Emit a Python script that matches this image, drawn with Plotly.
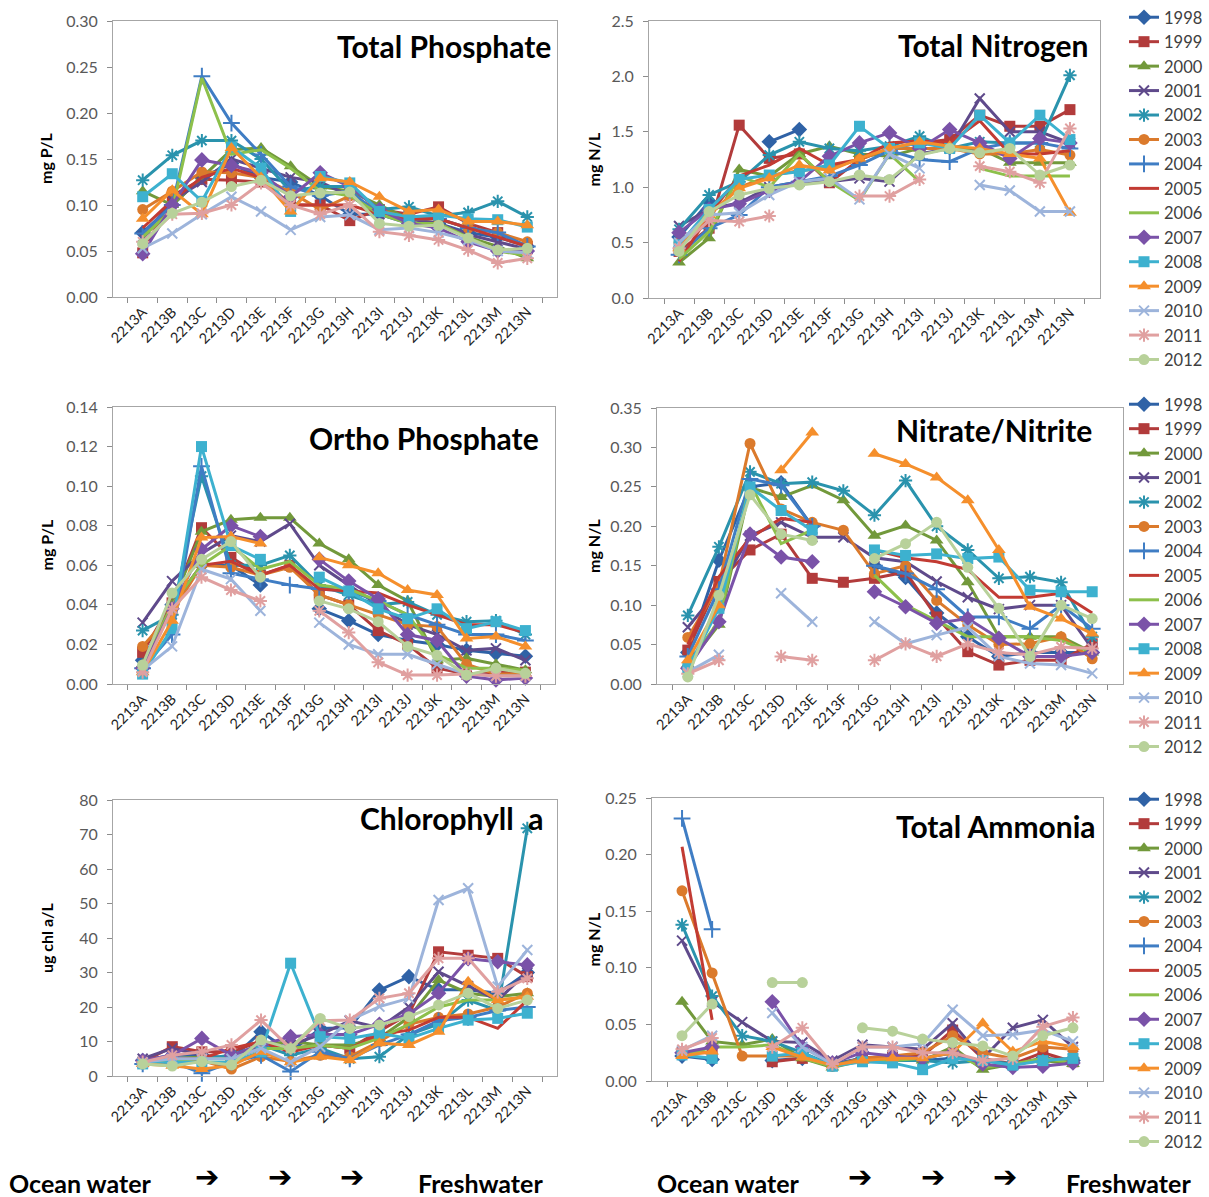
import plotly.graph_objects as go

W, H = 1209, 1197
N = None

stations = ['2213A', '2213B', '2213C', '2213D', '2213E', '2213F', '2213G',
            '2213H', '2213I', '2213J', '2213K', '2213L', '2213M', '2213N']
years = ['1998', '1999', '2000', '2001', '2002', '2003', '2004', '2005',
         '2006', '2007', '2008', '2009', '2010', '2011', '2012']

# Total Phosphate (mg P/L), one row per year
total_phosphate = [
    [0.070, 0.100, 0.130, 0.145, 0.130, 0.125, 0.110, 0.090, 0.090, 0.080, 0.080, 0.070, 0.065, 0.055],
    [0.048, 0.110, 0.128, 0.127, 0.125, 0.100, 0.100, 0.083, 0.095, 0.090, 0.098, 0.080, 0.070, 0.055],
    [0.115, 0.100, 0.130, 0.160, 0.162, 0.142, 0.120, 0.115, 0.100, 0.085, 0.080, 0.065, 0.055, 0.042],
    [0.065, 0.105, 0.125, 0.150, 0.140, 0.130, 0.125, 0.110, 0.090, 0.085, 0.080, 0.068, 0.060, 0.052],
    [0.127, 0.154, 0.170, 0.170, 0.150, 0.115, 0.120, 0.120, 0.095, 0.098, 0.088, 0.092, 0.104, 0.087],
    [0.095, 0.115, 0.136, 0.135, 0.130, 0.114, 0.095, 0.110, 0.095, 0.085, 0.085, 0.075, 0.070, 0.060],
    [0.069, 0.100, 0.240, 0.189, 0.155, 0.120, 0.110, 0.115, 0.090, 0.085, 0.085, 0.075, 0.070, 0.055],
    [0.075, 0.105, 0.130, 0.140, 0.130, 0.100, 0.100, 0.100, 0.090, 0.085, 0.085, 0.075, 0.065, 0.055],
    [0.065, 0.095, 0.238, 0.155, 0.160, 0.140, 0.115, 0.110, 0.090, 0.080, 0.080, 0.065, 0.050, 0.045],
    [0.047, 0.100, 0.149, 0.143, 0.135, 0.109, 0.135, 0.120, 0.095, 0.080, 0.075, 0.060, 0.050, 0.050],
    [0.109, 0.134, 0.104, 0.163, 0.140, 0.093, 0.131, 0.124, 0.093, 0.087, 0.089, 0.085, 0.084, 0.076],
    [0.085, 0.116, 0.090, 0.162, 0.130, 0.093, 0.129, 0.125, 0.109, 0.093, 0.095, 0.082, 0.082, 0.078],
    [0.053, 0.069, 0.090, 0.109, 0.093, 0.073, 0.087, 0.089, 0.073, 0.075, 0.070, 0.062, 0.050, 0.048],
    [0.060, 0.090, 0.091, 0.100, 0.124, 0.100, 0.090, 0.100, 0.071, 0.067, 0.062, 0.051, 0.037, 0.042],
    [0.058, 0.091, 0.103, 0.120, 0.127, 0.110, 0.113, 0.114, 0.080, 0.077, 0.078, 0.064, 0.051, 0.053],
]

# Total Nitrogen (mg N/L)
total_nitrogen = [
    [0.55, 0.87, N, 1.41, 1.52, N, N, N, N, N, N, N, N, N],
    [0.42, 0.63, 1.56, 1.26, 1.30, 1.04, 1.25, 1.35, 1.40, 1.43, 1.65, 1.55, 1.55, 1.70],
    [0.32, 0.54, 1.16, 1.10, 1.30, 1.37, 1.30, 1.28, 1.35, 1.35, 1.35, 1.22, 1.22, 1.22],
    [0.65, 0.80, 0.86, 1.00, 1.05, 1.05, 1.08, 1.05, 1.30, 1.35, 1.80, 1.50, 1.50, 1.40],
    [0.62, 0.93, 1.05, 1.29, 1.41, 1.35, 1.33, 1.37, 1.46, 1.35, 1.41, 1.40, 1.40, 2.01],
    [0.50, 0.75, 1.00, 1.10, 1.15, 1.17, 1.25, 1.35, 1.35, 1.35, 1.30, 1.30, 1.34, 1.29],
    [0.39, 0.63, 0.75, 1.00, 1.05, 1.10, 1.20, 1.33, 1.25, 1.23, 1.35, 1.40, 1.40, 1.35],
    [0.33, 0.75, 1.10, 1.20, 1.35, 1.20, 1.25, 1.40, 1.42, 1.40, 1.60, 1.30, 1.30, 1.33],
    [0.35, 0.60, 1.10, 1.00, 1.30, 1.05, 0.88, 1.30, 1.05, N, 1.17, 1.10, 1.10, 1.10],
    [0.59, 0.80, 0.85, 0.97, 1.05, 1.28, 1.40, 1.49, 1.35, 1.52, 1.40, 1.26, 1.44, 1.40],
    [0.48, 0.80, 1.07, 1.11, 1.14, 1.20, 1.55, 1.35, 1.40, 1.35, 1.65, 1.40, 1.65, 1.43],
    [0.45, 0.75, 0.99, 1.08, 1.20, 1.15, 1.26, 1.35, 1.41, 1.37, 1.35, 1.30, 1.26, 0.77],
    [0.50, 0.75, 0.77, 0.93, 1.05, 1.08, 0.89, 1.30, 1.17, N, 1.02, 0.97, 0.78, 0.78],
    [0.45, 0.70, 0.69, 0.74, N, N, 0.92, 0.92, 1.07, N, 1.19, 1.14, 1.04, 1.53],
    [0.42, 0.78, 0.93, 0.99, 1.02, 1.05, 1.11, 1.07, 1.29, 1.35, 1.31, 1.35, 1.11, 1.20],
]

# Ortho Phosphate (mg P/L)
ortho_phosphate = [
    [0.012, 0.040, 0.060, 0.060, 0.050, N, 0.038, 0.032, 0.025, 0.022, 0.020, 0.017, 0.0155, 0.014],
    [0.016, 0.041, 0.079, 0.064, 0.055, 0.060, 0.045, 0.040, 0.027, 0.020, 0.008, 0.005, 0.006, 0.006],
    [0.010, 0.040, 0.077, 0.083, 0.084, 0.084, 0.071, 0.063, 0.050, 0.042, 0.012, 0.013, 0.010, 0.007],
    [0.031, 0.052, 0.066, 0.075, 0.072, 0.081, 0.060, 0.050, 0.040, 0.030, 0.025, 0.017, 0.018, 0.012],
    [0.027, 0.035, 0.105, 0.060, 0.060, 0.065, 0.050, 0.045, 0.040, 0.0415, 0.035, 0.0315, 0.032, 0.025],
    [0.019, 0.036, 0.060, 0.059, 0.055, 0.059, 0.045, 0.040, 0.035, 0.030, 0.029, 0.010, 0.005, 0.005],
    [0.008, 0.025, 0.110, 0.056, 0.053, 0.050, 0.048, 0.047, 0.042, 0.035, 0.030, 0.025, 0.025, 0.022],
    [0.010, 0.040, 0.060, 0.062, 0.055, 0.060, 0.048, 0.047, 0.046, 0.040, 0.035, 0.030, 0.030, 0.026],
    [0.009, 0.040, 0.060, 0.070, 0.058, 0.062, 0.050, 0.048, 0.042, 0.035, 0.015, 0.008, 0.008, 0.007],
    [0.008, 0.038, 0.068, 0.080, 0.0745, N, 0.063, 0.052, 0.043, 0.025, 0.022, 0.004, 0.002, 0.003],
    [0.005, 0.028, 0.120, 0.070, 0.063, N, 0.054, 0.047, 0.038, 0.033, 0.038, 0.028, 0.0315, 0.027],
    [0.006, 0.032, 0.074, 0.0745, 0.071, N, 0.064, 0.060, 0.056, 0.0475, 0.045, 0.023, 0.024, 0.019],
    [0.007, 0.019, 0.058, 0.053, 0.037, N, 0.031, 0.020, 0.015, 0.015, 0.010, 0.005, 0.004, 0.004],
    [0.006, 0.038, 0.054, 0.0475, 0.042, N, 0.037, 0.026, 0.011, 0.0045, 0.0045, 0.005, 0.004, 0.004],
    [0.0096, 0.046, 0.063, 0.072, 0.054, N, 0.042, 0.038, 0.0315, 0.019, 0.0145, 0.0045, 0.008, 0.0054],
]

# Nitrate/Nitrite (mg N/L)
nitrate_nitrite = [
    [0.040, 0.157, 0.250, 0.255, 0.200, N, 0.150, 0.135, 0.090, 0.060, 0.035, 0.040, 0.040, 0.040],
    [0.043, 0.130, 0.170, 0.190, 0.134, 0.129, 0.134, 0.142, 0.085, 0.041, 0.024, 0.030, 0.030, 0.051],
    [0.025, 0.075, 0.249, 0.237, 0.252, 0.233, 0.188, 0.201, 0.182, 0.129, 0.060, 0.060, 0.060, 0.040],
    [0.072, 0.120, 0.188, 0.205, 0.186, 0.186, 0.160, 0.155, 0.130, 0.110, 0.095, 0.100, 0.100, 0.045],
    [0.087, 0.174, 0.269, 0.254, 0.256, 0.245, 0.214, 0.258, 0.200, 0.170, 0.134, 0.136, 0.129, 0.060],
    [0.059, 0.125, 0.305, 0.222, 0.205, 0.195, 0.140, 0.150, 0.106, 0.075, 0.050, 0.051, 0.060, 0.032],
    [0.035, 0.120, 0.260, 0.252, 0.200, N, 0.150, 0.140, 0.120, 0.085, 0.085, 0.070, 0.100, 0.070],
    [0.050, 0.136, 0.185, 0.210, 0.205, N, 0.170, 0.160, 0.155, 0.145, 0.110, 0.110, 0.115, 0.090],
    [0.025, 0.080, 0.255, 0.178, 0.195, N, 0.138, 0.100, 0.080, 0.060, 0.060, 0.060, 0.055, 0.040],
    [0.020, 0.079, 0.190, 0.161, 0.155, N, 0.117, 0.098, 0.077, 0.083, 0.058, 0.035, 0.035, 0.040],
    [0.020, 0.096, 0.250, 0.220, 0.195, N, 0.170, 0.163, 0.165, 0.159, 0.161, 0.119, 0.117, 0.117],
    [0.030, 0.100, N, 0.271, 0.319, N, 0.292, 0.279, 0.262, 0.233, 0.170, 0.098, 0.083, 0.064],
    [0.015, 0.037, N, 0.115, 0.079, N, 0.079, 0.051, 0.062, 0.072, 0.035, 0.026, 0.024, 0.0135],
    [0.013, 0.030, N, 0.035, 0.030, N, 0.030, 0.051, 0.035, 0.051, 0.040, 0.037, 0.047, 0.045],
    [0.009, 0.1125, 0.240, 0.190, 0.182, N, 0.159, 0.178, 0.205, 0.148, 0.096, 0.035, 0.100, 0.083],
]

# Chlorophyll a (ug chl a/L)
chlorophyll_a = [
    [4.5, 6.0, 6.0, 5.0, 12.8, 7.0, 13.8, 14.0, 24.9, 28.8, 25.0, 25.0, 24.0, 30.0],
    [4.0, 8.5, 7.0, 7.0, 10.0, 8.0, 9.0, 8.0, 13.0, 18.0, 36.0, 35.0, 34.1, 28.8],
    [4.0, 5.0, 5.5, 5.0, 9.0, 10.0, 9.0, 9.0, 11.0, 17.0, 27.8, 24.0, 23.0, 24.0],
    [5.0, 8.0, 6.0, 5.0, 8.0, 9.0, 12.0, 16.0, 14.0, 20.0, 30.2, 26.0, 22.0, 30.0],
    [4.0, 4.5, 5.0, 6.0, 9.0, 6.0, 8.0, 5.0, 5.6, 12.0, 15.0, 22.0, 19.0, 71.8],
    [3.5, 4.0, 4.5, 2.0, 5.6, 4.2, 6.0, 5.6, 10.0, 15.0, 17.0, 18.0, 20.0, 24.0],
    [3.5, 4.0, 0.8, 4.0, 6.0, 1.3, 7.0, 5.0, 9.0, 12.0, 16.0, 17.0, 19.0, 20.0],
    [4.0, 5.0, 5.0, 8.0, 10.0, 7.0, 9.0, 8.0, 12.0, 13.3, 17.0, 17.0, 13.8, 22.0],
    [4.0, 4.5, 5.0, 5.0, 8.0, 8.0, 9.0, 8.0, 11.0, 15.0, 20.0, 22.0, 22.0, 23.0],
    [4.5, 6.0, 10.9, 6.0, 9.0, 11.4, 12.0, 12.0, 15.0, 18.0, 24.0, 34.0, 33.1, 32.2],
    [3.5, 4.0, 4.0, 4.0, 7.0, 32.7, 11.4, 10.9, 12.4, 10.9, 13.8, 16.2, 16.7, 18.2],
    [3.5, 3.0, 2.0, 3.0, 7.0, 4.0, 5.6, 4.6, 9.5, 9.0, 12.8, 27.3, 22.0, 23.0],
    [4.0, 5.0, 5.0, 5.0, 8.0, 4.0, 8.5, 16.2, 20.1, 22.5, 51.0, 54.4, 25.9, 36.5],
    [4.0, 6.0, 7.0, 9.0, 16.2, 8.0, 16.0, 16.2, 22.5, 24.0, 34.1, 34.1, 24.4, 28.3],
    [3.5, 2.9, 4.2, 3.2, 10.4, 8.0, 16.7, 13.8, 14.8, 17.2, 20.6, 24.0, 19.6, 22.0],
]

# Total Ammonia (mg N/L)
total_ammonia = [
    [0.022, 0.019, N, 0.018, 0.020, 0.015, 0.020, 0.020, 0.018, 0.020, 0.018, 0.015, 0.020, 0.018],
    [0.025, 0.025, N, 0.017, 0.020, 0.014, 0.020, 0.022, 0.022, 0.045, 0.020, 0.015, 0.025, 0.017],
    [0.070, 0.035, 0.032, 0.037, 0.020, 0.012, 0.018, 0.020, 0.018, 0.030, 0.010, 0.015, 0.018, 0.015],
    [0.124, 0.070, 0.052, 0.035, 0.034, 0.018, 0.032, 0.030, 0.028, 0.051, 0.020, 0.047, 0.054, 0.030],
    [0.138, 0.075, 0.040, 0.035, 0.025, 0.014, 0.020, 0.018, 0.018, 0.016, 0.018, 0.015, 0.018, 0.020],
    [0.168, 0.0955, 0.022, 0.022, 0.022, 0.013, 0.020, 0.022, 0.025, 0.040, 0.025, 0.020, 0.030, 0.028],
    [0.232, 0.134, N, N, N, N, N, N, N, N, N, N, N, N],
    [0.207, 0.054, N, N, N, N, N, N, N, N, N, N, N, N],
    [0.022, 0.030, 0.030, 0.032, 0.020, 0.013, 0.018, 0.018, 0.020, 0.025, 0.012, 0.015, 0.020, 0.016],
    [0.025, 0.030, N, 0.070, 0.030, 0.016, 0.025, 0.022, 0.020, 0.025, 0.015, 0.012, 0.013, 0.016],
    [0.023, 0.020, N, 0.022, 0.025, 0.013, 0.017, 0.016, 0.010, 0.020, 0.018, 0.014, 0.018, 0.020],
    [0.022, 0.026, N, 0.030, 0.021, 0.014, 0.018, 0.020, 0.020, 0.025, 0.051, 0.026, 0.035, 0.030],
    [0.027, 0.040, N, 0.060, 0.030, 0.015, 0.030, 0.030, 0.033, 0.063, 0.040, 0.041, 0.045, 0.035],
    [0.028, 0.038, N, 0.030, 0.047, 0.015, 0.030, 0.030, 0.025, 0.025, 0.018, 0.020, 0.048, 0.056],
    [0.040, 0.068, N, 0.087, 0.087, N, 0.047, 0.044, 0.037, 0.034, 0.031, 0.022, 0.040, 0.047],
]

colors = ['#2F62A6', '#B23B3B', '#72993B', '#5F4A8B', '#2A93AD', '#DB7A2C',
          '#3F7DC4', '#C23B33', '#8DC04B', '#7A52A8', '#3DB1CF', '#F58F2C',
          '#9DB4DB', '#E0A0A0', '#B8D19A']
symbols = ['diamond', 'square', 'triangle-up', 'x-thin', 'asterisk', 'circle',
           'cross-thin', None, None, 'diamond', 'square', 'triangle-up',
           'x-thin', 'asterisk', 'circle']
sizes = {'diamond': 12, 'square': 11, 'triangle-up': 12, 'x-thin': 10,
         'asterisk': 11, 'circle': 11, 'cross-thin': 12}

FONT = 'Lato'


def px_x(v):
    return v / W


def px_y(v):
    return 1 - v / H


panels = [
    dict(data=total_phosphate, title='Total Phosphate', ytitle='mg P/L',
         yrange=[0, 0.30], dtick=0.05, fmt='.2f', box=(113, 557, 21, 297),
         tpos=(553, 46), ytx=46, legend=None),
    dict(data=total_nitrogen, title='Total Nitrogen', ytitle='mg N/L',
         yrange=[0, 2.5], dtick=0.5, fmt='.1f', box=(649, 1100, 21, 298),
         tpos=(1091, 45), ytx=593, legend='legend'),
    dict(data=ortho_phosphate, title='Ortho Phosphate', ytitle='mg P/L',
         yrange=[0, 0.14], dtick=0.02, fmt='.2f', box=(113, 555, 407, 684),
         tpos=(541, 438), ytx=46, legend=None),
    dict(data=nitrate_nitrite, title='Nitrate/Nitrite', ytitle='mg N/L',
         yrange=[0, 0.35], dtick=0.05, fmt='.2f', box=(657, 1123, 408, 684),
         tpos=(1094, 430), ytx=593, legend='legend2'),
    dict(data=chlorophyll_a, title='Chlorophyll\u00a0 a', ytitle='ug chl a/L',
         yrange=[0, 80], dtick=10, fmt='d', box=(113, 557, 800, 1076),
         tpos=(546, 818), ytx=46, legend=None),
    dict(data=total_ammonia, title='Total Ammonia', ytitle='mg N/L',
         yrange=[0, 0.25], dtick=0.05, fmt='.2f', box=(652, 1103, 798, 1081),
         tpos=(1098, 826), ytx=593, legend='legend3'),
]

fig = go.Figure()
layout = dict(
    width=W, height=H, margin=dict(l=0, r=0, t=0, b=0, autoexpand=False),
    paper_bgcolor='white', plot_bgcolor='white',
    font=dict(family=FONT, color='#404040'),
    annotations=[],
)

for i, p in enumerate(panels, start=1):
    xa = 'x' if i == 1 else f'x{i}'
    ya = 'y' if i == 1 else f'y{i}'
    x0, x1, y0, y1 = p['box']
    for k, yr in enumerate(years):
        sym = symbols[k]
        c = colors[k]
        kw = dict(x=stations, y=p['data'][k], xaxis=xa, yaxis=ya, name=yr,
                  line=dict(color=c, width=3), cliponaxis=False)
        if sym is None:
            kw['mode'] = 'lines'
        else:
            kw['mode'] = 'lines+markers'
            open_sym = sym in ('x-thin', 'asterisk', 'cross-thin')
            kw['marker'] = dict(symbol=sym, size=sizes[sym], color=c,
                                line=dict(color=c, width=2 if open_sym else 0))
        if p['legend']:
            kw['legend'] = p['legend']
            kw['showlegend'] = True
        else:
            kw['showlegend'] = False
        fig.add_trace(go.Scatter(**kw))

    xkey = 'xaxis' if i == 1 else f'xaxis{i}'
    ykey = 'yaxis' if i == 1 else f'yaxis{i}'
    layout[xkey] = dict(
        domain=[px_x(x0), px_x(x1)], anchor=ya, type='category',
        tickangle=-45, tickson='boundaries', ticks='outside', ticklen=5,
        tickcolor='#8C8C8C', showline=True, linecolor='#A6A6A6', linewidth=1,
        mirror=True, showgrid=False, zeroline=False, automargin=False,
        tickfont=dict(family=FONT, size=14.5, color='#1F1F1F'),
    )
    layout[ykey] = dict(
        domain=[px_y(y1), px_y(y0)], anchor=xa, range=p['yrange'],
        dtick=p['dtick'], tick0=0, tickformat=p['fmt'], ticks='outside',
        ticklen=5, tickcolor='#8C8C8C', showline=True, linecolor='#A6A6A6',
        linewidth=1, mirror=True, showgrid=False, zeroline=False,
        automargin=False,
        tickfont=dict(family=FONT, size=16, color='#595959'),
        ticklabelstandoff=6,
    )
    layout['annotations'].append(dict(
        text=f"<b>{p['title']}</b>", x=px_x(p['tpos'][0]), y=px_y(p['tpos'][1]),
        xref='paper', yref='paper', xanchor='right', yanchor='middle',
        showarrow=False, font=dict(family=FONT, size=30, color='black')))
    layout['annotations'].append(dict(
        text=f"<b>{p['ytitle']}</b>", x=px_x(p['ytx']),
        y=px_y((y0 + y1) / 2), xref='paper', yref='paper', textangle=-90,
        xanchor='center', yanchor='middle', showarrow=False,
        font=dict(family=FONT, size=16, color='black')))

leg_common = dict(font=dict(family=FONT, size=16.5, color='#404040'),
                  bgcolor='rgba(0,0,0,0)', borderwidth=0, xanchor='left',
                  yanchor='top', tracegroupgap=0, itemwidth=30)
layout['legend'] = dict(x=px_x(1124), y=px_y(0), **leg_common)
layout['legend2'] = dict(x=px_x(1124), y=px_y(387), **leg_common)
layout['legend3'] = dict(x=px_x(1124), y=px_y(782), **leg_common)

# bottom captions
for label, xc in [('Ocean water', 80), ('Freshwater', 480),
                  ('Ocean water', 728), ('Freshwater', 1128)]:
    layout['annotations'].append(dict(
        text=f'<b>{label}</b>', x=px_x(xc), y=px_y(1183), xref='paper',
        yref='paper', xanchor='center', yanchor='middle', showarrow=False,
        font=dict(family=FONT, size=25, color='black')))
for xc in [207, 280, 352, 860, 933, 1005]:
    layout['annotations'].append(dict(
        text='\u2794', x=px_x(xc), y=px_y(1196), xref='paper',
        yref='paper', xanchor='center', yanchor='bottom', showarrow=False,
        font=dict(family='DejaVu Sans', size=29, color='black')))

fig.update_layout(**layout)
fig.write_html('out.html')
